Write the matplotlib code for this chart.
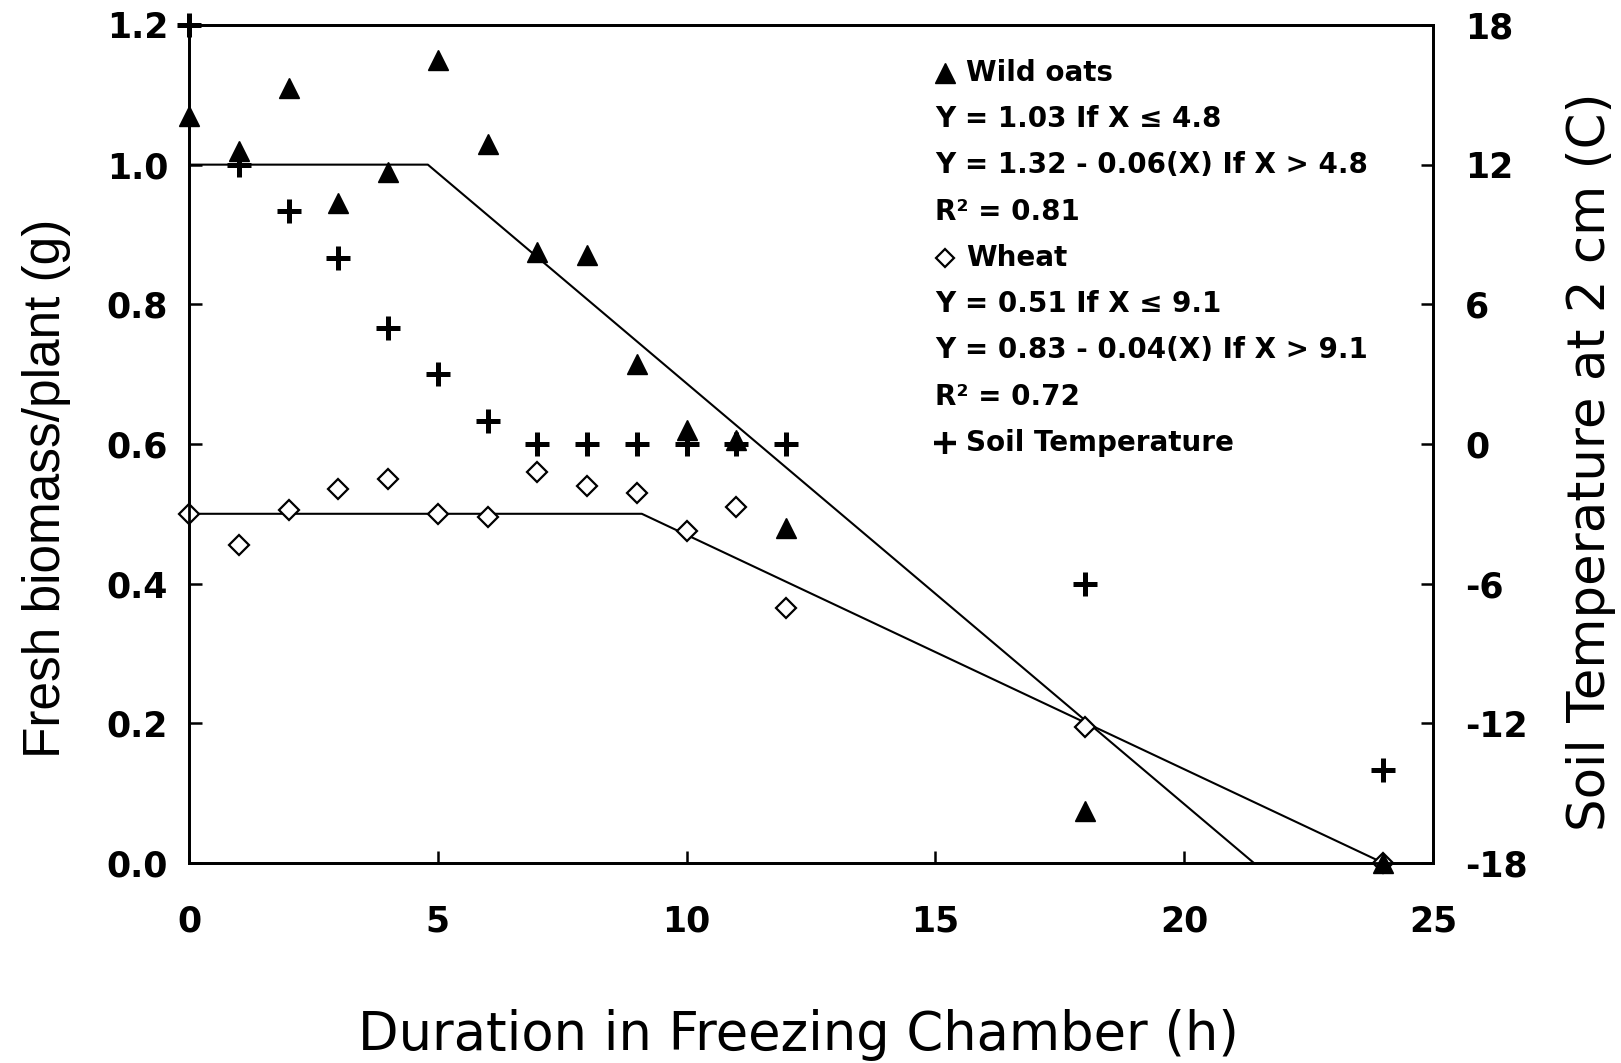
import numpy as np
import matplotlib.pyplot as plt

plt.rcParams['font.family'] = ['DejaVu Sans']
plt.rcParams['axes.unicode_minus'] = False

hours = [0, 1, 2, 3, 4, 5, 6, 7, 8, 9, 10, 11, 12, 18, 24]
wild_oats = [1.07, 1.02, 1.11, 0.945, 0.99, 1.15, 1.03, 0.875, 0.87, 0.715, 0.62, 0.605, 0.48, 0.075, 0.0]
wheat = [0.50, 0.455, 0.505, 0.535, 0.55, 0.50, 0.495, 0.56, 0.54, 0.53, 0.475, 0.51, 0.365, 0.195, 0.0]
soil_temp = [18, 12, 10, 8, 5, 3, 1, 0, 0, 0, 0, 0, 0, -6, -14]

oats_fit_x = [0, 4.8, 21.4]
oats_fit_y = [1.0, 1.0, 0.0]
wheat_fit_x = [0, 9.1, 24]
wheat_fit_y = [0.5, 0.5, 0.0]

legend_lines = [
    ('^', 'Wild oats'),
    (None, 'Y = 1.03 If X \u2264 4.8'),
    (None, 'Y = 1.32 - 0.06(X) If X > 4.8'),
    (None, 'R\u00b2 = 0.81'),
    ('D', 'Wheat'),
    (None, 'Y = 0.51 If X \u2264 9.1'),
    (None, 'Y = 0.83 - 0.04(X) If X > 9.1'),
    (None, 'R\u00b2 = 0.72'),
    ('+', 'Soil Temperature'),
]

fig = plt.figure(figsize=(16.21, 10.63), dpi=100)
ax = fig.add_axes([0.1166, 0.1882, 0.7674, 0.7883])
ax2 = ax.twinx()

ax.plot(oats_fit_x, oats_fit_y, color='black', lw=1.5)
ax.plot(wheat_fit_x, wheat_fit_y, color='black', lw=1.5)
ax.plot(hours, wheat, 'D', ms=10, mfc='white', mec='black', mew=1.6, clip_on=False, zorder=3)
ax.plot(hours, wild_oats, '^', ms=15, color='black', clip_on=False, zorder=4)
ax2.plot(hours, soil_temp, '+', ms=17, color='black', mew=3.6, clip_on=False, zorder=5)

ax.set_xlim(0, 25)
ax.set_ylim(0, 1.2)
ax2.set_ylim(-18, 18)
ax.set_xticks([0, 5, 10, 15, 20, 25])
ax.set_yticks([0.0, 0.2, 0.4, 0.6, 0.8, 1.0, 1.2])
ax.set_yticklabels(['0.0', '0.2', '0.4', '0.6', '0.8', '1.0', '1.2'])
ax2.set_yticks([-18, -12, -6, 0, 6, 12, 18])

for a in (ax, ax2):
    for s in a.spines.values():
        s.set_linewidth(2)
    a.tick_params(direction='in', length=9, width=1.8, labelsize=25)
    for lab in a.get_xticklabels() + a.get_yticklabels():
        lab.set_fontweight('bold')
ax.tick_params(axis='x', pad=30)
ax.tick_params(axis='y', pad=15)
ax2.tick_params(axis='y', pad=23)

ax.set_xlabel('Duration in Freezing Chamber (h)', fontsize=38)
ax.xaxis.set_label_coords(0.49, -0.174)
ax.set_ylabel('Fresh biomass/plant (g)', fontsize=37, family='Liberation Sans')
ax.yaxis.set_label_coords(-0.095, 0.4475)
ax2.set_ylabel('Soil Temperature at 2 cm (C)', fontsize=37)
ax2.yaxis.set_label_coords(1.107, 0.4785)

for i, (mk, txt) in enumerate(legend_lines):
    y = 0.943 - i * 0.0552
    if mk is None:
        ax.text(0.60, y, txt, transform=ax.transAxes, fontsize=20, fontweight='bold',
                va='center', ha='left')
        continue
    if mk == '^':
        ax.plot([0.608], [y], '^', ms=14, color='black', transform=ax.transAxes, clip_on=False)
    elif mk == 'D':
        ax.plot([0.608], [y], 'D', ms=9, mfc='white', mec='black', mew=1.6,
                transform=ax.transAxes, clip_on=False)
    else:
        ax.plot([0.608], [y], '+', ms=16, color='black', mew=3.2,
                transform=ax.transAxes, clip_on=False)
    ax.text(0.625, y, txt, transform=ax.transAxes, fontsize=20, fontweight='bold',
            va='center', ha='left')

fig.savefig('out.png', dpi=100)
